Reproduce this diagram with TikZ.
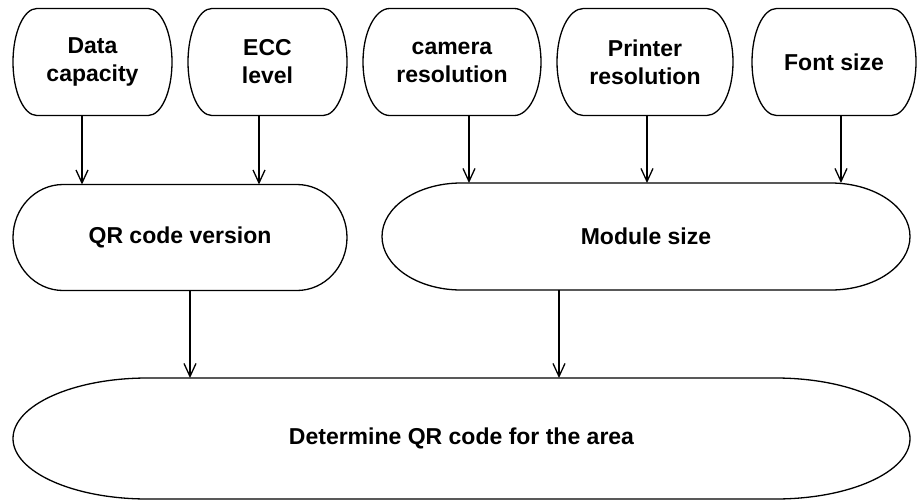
\documentclass[tikz,border=0pt]{standalone}
\usepackage{fontspec}
\setmainfont{Liberation Sans}
\usetikzlibrary{calc,arrows.meta}
\begin{document}
\begin{tikzpicture}[x=1pt,y=-1pt,
  term/.style={draw=none,inner sep=0pt,outer sep=0pt,align=center,
    font=\fontsize{23}{28}\selectfont\bfseries},
  arr/.style={line width=1.3pt,-{Straight Barb[length=13pt,width=12pt,line width=1.3pt]}},
  shapeline/.style={line width=1.3pt,line join=round}]
\useasboundingbox (0,0) rectangle (918,501);
% nodes
\node[term,minimum width=159pt,minimum height=107pt] (dc)  at (92.5,62) {Data\\capacity};
\node[term,minimum width=159pt,minimum height=107pt] (ecc) at (267.5,62) {ECC\\level};
\node[term,minimum width=178pt,minimum height=107pt] (cam) at (452,62) {camera\\resolution};
\node[term,minimum width=176pt,minimum height=107pt] (pr)  at (645,62) {Printer\\resolution};
\node[term,minimum width=164pt,minimum height=107pt] (fs)  at (834,62) {Font size};
\node[term,minimum width=334pt,minimum height=106pt] (qr)  at (180,237.5) {QR code version};
\node[term,minimum width=528pt,minimum height=107pt] (ms)  at (646,236.5) {Module size};
\node[term,minimum width=897pt,minimum height=121pt] (det) at (461.5,438.5) {Determine QR code for the area};
% terminator outlines
\foreach \nm in {dc,ecc,cam,pr,fs,qr,ms,det}{
  \path[shapeline] let \p1=(\nm.north west), \p2=(\nm.south east),
        \n1={0.15*(\x2-\x1)}, \n2={0.5*(\y1-\y2)} in
    [draw] (\x1+\n1,\y1) -- (\x2-\n1,\y1)
      arc[start angle=90,end angle=-90,x radius=\n1,y radius=\n2]
      -- (\x1+\n1,\y2)
      arc[start angle=270,end angle=90,x radius=\n1,y radius=\n2] -- cycle;
}
% connectors
\draw[arr] ([xshift=-10.5pt]dc.south)  -- ([xshift=-10.5pt]dc.south |- qr.north);
\draw[arr] ([xshift=-8.5pt]ecc.south)  -- ([xshift=-8.5pt]ecc.south |- qr.north);
\draw[arr] ([xshift=17pt]cam.south)    -- ([xshift=17pt]cam.south |- ms.north);
\draw[arr] ([xshift=2pt]pr.south)      -- ([xshift=2pt]pr.south |- ms.north);
\draw[arr] ([xshift=7pt]fs.south)      -- ([xshift=7pt]fs.south |- ms.north);
\draw[arr] ([xshift=10pt]qr.south)     -- ([xshift=10pt]qr.south |- det.north);
\draw[arr] ([xshift=-87pt]ms.south)    -- ([xshift=-87pt]ms.south |- det.north);
\end{tikzpicture}
\end{document}
